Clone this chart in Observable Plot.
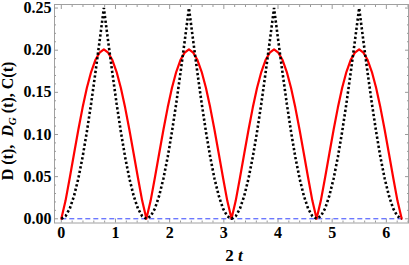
<!DOCTYPE html>
<html><head><meta charset="utf-8">
<script src="https://cdn.jsdelivr.net/npm/d3@7"></script>
<script src="https://cdn.jsdelivr.net/npm/@observablehq/plot@0.6"></script>
<style>
body{margin:0;background:#fff}
#chart{position:relative;width:409px;height:265px}
</style>
</head><body><div id="chart"></div>
<script>
// x = 2t samples
const xs = [0,0.0785,0.1571,0.2356,0.3142,0.3927,0.4712,0.5498,0.6283,0.7069,0.7854,0.8639,0.9425,1.0210,1.0996,1.1781,1.2566,1.3352,1.4137,1.4923,1.5708,1.6493,1.7279,1.8064,1.8850,1.9635,2.0420,2.1206,2.1991,2.2777,2.3562,2.4347,2.5133,2.5918,2.6704,2.7489,2.8274,2.9060,2.9845,3.0631,3.1416,3.2201,3.2987,3.3772,3.4558,3.5343,3.6128,3.6914,3.7699,3.8485,3.9270,4.0055,4.0841,4.1626,4.2412,4.3197,4.3982,4.4768,4.5553,4.6339,4.7124,4.7909,4.8695,4.9480,5.0265,5.1051,5.1836,5.2622,5.3407,5.4193,5.4978,5.5763,5.6549,5.7334,5.8119,5.8905,5.9690,6.0476,6.1261,6.2046,6.2832];
// C(t) red solid
const C = [0,0.0216,0.0489,0.0775,0.1057,0.1319,0.1551,0.1741,0.1883,0.1971,0.2010,0.1971,0.1883,0.1741,0.1551,0.1319,0.1057,0.0775,0.0489,0.0216,
0,0.0216,0.0489,0.0775,0.1057,0.1319,0.1551,0.1741,0.1883,0.1971,0.2010,0.1971,0.1883,0.1741,0.1551,0.1319,0.1057,0.0775,0.0489,0.0216,
0,0.0216,0.0489,0.0775,0.1057,0.1319,0.1551,0.1741,0.1883,0.1971,0.2010,0.1971,0.1883,0.1741,0.1551,0.1319,0.1057,0.0775,0.0489,0.0216,
0,0.0216,0.0489,0.0775,0.1057,0.1319,0.1551,0.1741,0.1883,0.1971,0.2010,0.1971,0.1883,0.1741,0.1551,0.1319,0.1057,0.0775,0.0489,0.0216,0];
// D_G(t) black dotted
const DG = [0,0.0031,0.0122,0.0273,0.0478,0.0732,0.1031,0.1365,0.1728,0.2109,0.25,0.2109,0.1728,0.1365,0.1031,0.0732,0.0478,0.0273,0.0122,0.0031,
0,0.0031,0.0122,0.0273,0.0478,0.0732,0.1031,0.1365,0.1728,0.2109,0.25,0.2109,0.1728,0.1365,0.1031,0.0732,0.0478,0.0273,0.0122,0.0031,
0,0.0031,0.0122,0.0273,0.0478,0.0732,0.1031,0.1365,0.1728,0.2109,0.25,0.2109,0.1728,0.1365,0.1031,0.0732,0.0478,0.0273,0.0122,0.0031,
0,0.0031,0.0122,0.0273,0.0478,0.0732,0.1031,0.1365,0.1728,0.2109,0.25,0.2109,0.1728,0.1365,0.1031,0.0732,0.0478,0.0273,0.0122,0.0031,0];
// D(t) blue dashed (zero)
const Dx = [0, 6.2832];
const D = [0, 0];

const xMajor = [0,1,2,3,4,5,6];
const xMinor = [0.2,0.4,0.6,0.8,1.2,1.4,1.6,1.8,2.2,2.4,2.6,2.8,3.2,3.4,3.6,3.8,4.2,4.4,4.6,4.8,5.2,5.4,5.6,5.8,6.2,6.4];
const yMajor = [0,0.05,0.10,0.15,0.20,0.25];
const yLabels = ["0.00","0.05","0.10","0.15","0.20","0.25"];
const yMinor = [0.01,0.02,0.03,0.04,0.06,0.07,0.08,0.09,0.11,0.12,0.13,0.14,0.16,0.17,0.18,0.19,0.21,0.22,0.23,0.24];

const font = "'Liberation Serif', 'Times New Roman', serif";
const tickColor = "#9a9a9a";
const MAJ = 4, MIN = 2;
const noText = {fill: "none", label: null};
const txt = {fill: "#000", fontFamily: font, fontWeight: "bold", fontSize: 16, label: null};

const plot = Plot.plot({
  width: 409, height: 265,
  marginLeft: 54, marginRight: 1, marginTop: 4, marginBottom: 42.5,
  x: {domain: [-0.1257, 6.4089]},
  y: {domain: [-0.005, 0.2542]},
  style: "font-family: 'Liberation Serif', 'Times New Roman', serif; font-size: 16px; font-weight: bold; background: #fff; color: #000;",
  marks: [
    Plot.frame({stroke: "#a0a0a0", strokeWidth: 1}),
    // inward ticks, bottom & top
    Plot.axisX({ticks: xMajor, anchor: "bottom", tickSize: MAJ, dy: -MAJ, stroke: tickColor, ...noText}),
    Plot.axisX({ticks: xMinor, anchor: "bottom", tickSize: MIN, dy: -MIN, stroke: tickColor, ...noText}),
    Plot.axisX({ticks: xMajor, anchor: "top", tickSize: MAJ, dy: MAJ, stroke: tickColor, ...noText}),
    Plot.axisX({ticks: xMinor, anchor: "top", tickSize: MIN, dy: MIN, stroke: tickColor, ...noText}),
    // inward ticks, left & right
    Plot.axisY({ticks: yMajor, anchor: "left", tickSize: MAJ, dx: MAJ, stroke: tickColor, ...noText}),
    Plot.axisY({ticks: yMinor, anchor: "left", tickSize: MIN, dx: MIN, stroke: tickColor, ...noText}),
    Plot.axisY({ticks: yMajor, anchor: "right", tickSize: MAJ, dx: -MAJ, stroke: tickColor, ...noText}),
    Plot.axisY({ticks: yMinor, anchor: "right", tickSize: MIN, dx: -MIN, stroke: tickColor, ...noText}),
    // tick labels
    Plot.axisX({ticks: xMajor, anchor: "bottom", tickSize: 0, tickPadding: 4, tickFormat: d => String(d), ...txt}),
    Plot.axisY({ticks: yMajor, anchor: "left", tickSize: 0, tickPadding: 3, tickFormat: (d, i) => yLabels[i], ...txt}),
    // series
    Plot.line(Dx, {x: Dx, y: D, stroke: "#3344ff", strokeWidth: 1, strokeDasharray: "5,3", strokeLinecap: "butt"}),
    Plot.line(xs, {x: xs, y: C, stroke: "#ff0000", strokeWidth: 2.2}),
    Plot.line(xs, {x: xs, y: DG, stroke: "#000", strokeWidth: 2.6, strokeDasharray: "2.3,2.3", strokeLinecap: "butt", strokeLinejoin: "miter"})
  ]
});

const svg = d3.select(plot);
// y-axis label
const yl = svg.append("text")
  .attr("transform", "translate(13,121) rotate(-90)")
  .attr("text-anchor", "middle")
  .attr("font-family", font).attr("font-weight", "bold").attr("font-size", 16).attr("fill", "#000");
yl.append("tspan").text("D (t),  ");
yl.append("tspan").attr("font-style", "italic").text("D");
yl.append("tspan").attr("font-style", "italic").attr("font-size", 11).attr("dy", 3).text("G");
yl.append("tspan").attr("dy", -3).text(" (t), C(t)");
// x-axis label
const xl = svg.append("text")
  .attr("x", 234).attr("y", 261)
  .attr("text-anchor", "middle")
  .attr("font-family", font).attr("font-weight", "bold").attr("font-size", 17).attr("fill", "#000");
xl.append("tspan").text("2 ");
xl.append("tspan").attr("font-style", "italic").text("t");

document.getElementById("chart").append(plot);
</script>
</body></html>
